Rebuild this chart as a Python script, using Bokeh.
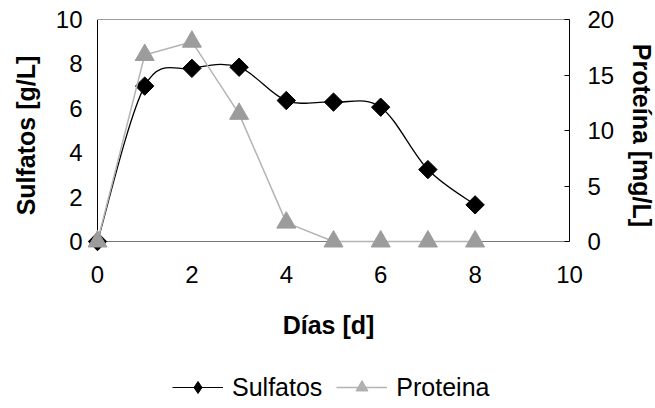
import numpy as np
from bokeh.plotting import figure
from bokeh.layouts import column
from bokeh.models import (Range1d, LinearAxis, FixedTicker, Legend, LegendItem,
                          ColumnDataSource)
from bokeh.embed import file_html
from bokeh.resources import INLINE

# ---- data ----
dias = [0, 1, 2, 3, 4, 5, 6, 7, 8]
sulfatos = [0.0, 7.0, 7.8, 7.85, 6.35, 6.28, 6.05, 3.24, 1.65]
proteina = [0.0, 16.8, 18.0, 11.5, 1.7, 0.0, 0.0, 0.0, 0.0]
x_ticks = [0, 2, 4, 6, 8, 10]
y_left_ticks = [0, 2, 4, 6, 8, 10]
y_right_ticks = [0, 5, 10, 15, 20]

FONT = "Liberation Sans"

# ---- layout constants (pixels) ----
PLOT_W, PLOT_H = 472, 222      # area between the axes
PAD = 10                       # small room so markers on the axes are not cut
LEFT, TOP = 87, 19
X0, X1 = x_ticks[0], x_ticks[-1]
YL0, YL1 = y_left_ticks[0], y_left_ticks[-1]
YR0, YR1 = y_right_ticks[0], y_right_ticks[-1]
xpad = PAD * (X1 - X0) / PLOT_W
ylpad = PAD * (YL1 - YL0) / PLOT_H
yrpad = PAD * (YR1 - YR0) / PLOT_H

p = figure(frame_width=PLOT_W + PAD, frame_height=PLOT_H + PAD,
           x_range=Range1d(X0 - xpad, X1), y_range=Range1d(YL0 - ylpad, YL1),
           output_backend="svg", toolbar_location=None,
           min_border_left=LEFT, min_border_right=86,
           min_border_top=TOP, min_border_bottom=109,
           background_fill_color="white", border_fill_color="white")
p.extra_y_ranges = {"prot": Range1d(YR0 - yrpad, YR1)}
p.xgrid.visible = False
p.ygrid.visible = False
p.outline_line_color = None

xa = p.xaxis[0]
xa.ticker = FixedTicker(ticks=x_ticks)
xa.axis_label = "Días [d]"
xa.axis_line_color = None
xa.major_tick_out = 0
xa.major_tick_in = 0
xa.minor_tick_out = 0
xa.minor_tick_in = 0
xa.major_label_standoff = 14
xa.axis_label_standoff = 25

ya = p.yaxis[0]
ya.ticker = FixedTicker(ticks=y_left_ticks)
ya.axis_label = "Sulfatos [g/L]"
ya.axis_line_color = None
ya.major_tick_out = 0
ya.major_tick_in = 0
ya.minor_tick_out = 0
ya.minor_tick_in = 0
ya.major_label_standoff = 5
ya.axis_label_standoff = 13

yr = LinearAxis(y_range_name="prot", ticker=FixedTicker(ticks=y_right_ticks),
                axis_label="Proteína [mg/L]", bounds=(YR0, YR1))
yr.axis_line_color = "black"
yr.major_tick_in = 5
yr.major_tick_out = 0
yr.minor_tick_out = 0
yr.minor_tick_in = 0
yr.major_label_standoff = 18
yr.axis_label_standoff = 11
p.add_layout(yr, "right")

top = LinearAxis(ticker=FixedTicker(ticks=[]), bounds=(X0, X1))
top.axis_line_color = "#9a9a9a"
top.major_tick_out = 0
top.major_tick_in = 0
top.minor_tick_out = 0
top.minor_tick_in = 0
top.major_label_text_font_size = "0px"
p.add_layout(top, "above")

for ax in (xa, ya, yr):
    ax.major_label_text_font = FONT
    ax.major_label_text_font_size = "24px"
    ax.major_label_text_color = "black"
    ax.axis_label_text_font = FONT
    ax.axis_label_text_font_size = "25px"
    ax.axis_label_text_font_style = "bold"
    ax.axis_label_text_color = "black"
    ax.major_tick_line_color = "black"

# axis lines through the origin
p.segment(x0=[X0], y0=[YL0], x1=[X0], y1=[YL1], line_color="black", line_width=1)
p.segment(x0=[X0], y0=[YL0], x1=[X1], y1=[YL0], line_color="#777777", line_width=1)

# ---- Sulfatos: smooth curve (Catmull-Rom style bezier through the data) ----
xs = np.array(dias, dtype=float)
ys = np.array(sulfatos, dtype=float)
n = len(xs)
x0, y0, x1, y1, cx0, cy0, cx1, cy1 = ([] for _ in range(8))
for i in range(n - 1):
    pm = max(i - 1, 0)
    pp = min(i + 2, n - 1)
    x0.append(xs[i]); y0.append(ys[i])
    x1.append(xs[i + 1]); y1.append(ys[i + 1])
    cx0.append(xs[i] + (xs[i + 1] - xs[pm]) / 6.0)
    cy0.append(ys[i] + (ys[i + 1] - ys[pm]) / 6.0)
    cx1.append(xs[i + 1] - (xs[pp] - xs[i]) / 6.0)
    cy1.append(ys[i + 1] - (ys[pp] - ys[i]) / 6.0)
bz = ColumnDataSource(dict(x0=x0, y0=y0, x1=x1, y1=y1,
                           cx0=cx0, cy0=cy0, cx1=cx1, cy1=cy1))
p.bezier(x0="x0", y0="y0", x1="x1", y1="y1", cx0="cx0", cy0="cy0",
         cx1="cx1", cy1="cy1", source=bz, line_color="black", line_width=1.3)
p.scatter(dias, sulfatos, marker="square", angle=np.pi / 4, size=13,
          fill_color="black", line_color="black")

# ---- Proteína ----
p.line(dias, proteina, y_range_name="prot", line_color="#b4b4b4", line_width=1.5)
p.scatter(dias, proteina, y_range_name="prot", marker="triangle",
          size=19, fill_color="#9c9c9c", line_color="#9c9c9c")

# ---- legend strip below (its series copies lie outside its visible range) ----
lg = figure(frame_width=655, frame_height=48, x_range=Range1d(-20, -19),
            y_range=Range1d(-20, -19), x_axis_type=None, y_axis_type=None,
            output_backend="svg", toolbar_location=None,
            min_border_left=0, min_border_right=0, min_border_top=0,
            min_border_bottom=0, background_fill_color="white",
            border_fill_color="white")
lg.xgrid.visible = False
lg.ygrid.visible = False
lg.outline_line_color = None
l1 = lg.line(dias, sulfatos, line_color="black", line_width=1.2)
m1 = lg.scatter(dias, sulfatos, marker="diamond",
                fill_color="black", line_color="black")
l2 = lg.line(dias, proteina, line_color="#b4b4b4", line_width=1.5)
m2 = lg.scatter(dias, proteina, marker="triangle", fill_color="#b0b0b0",
                line_color="#b0b0b0")
legend = Legend(items=[
    LegendItem(label="Sulfatos", renderers=[l1, m1]),
    LegendItem(label="Proteina", renderers=[l2, m2]),
], location=(172, 6), orientation="horizontal",
    glyph_width=51, glyph_height=30, label_standoff=9, spacing=14,
    padding=0, margin=0, border_line_color=None, background_fill_alpha=0,
    label_text_font=FONT, label_text_font_size="25px", label_text_color="black")
lg.add_layout(legend, "center")

page = column(p, lg, spacing=0)
open("out.html", "w").write(file_html(page, INLINE))
